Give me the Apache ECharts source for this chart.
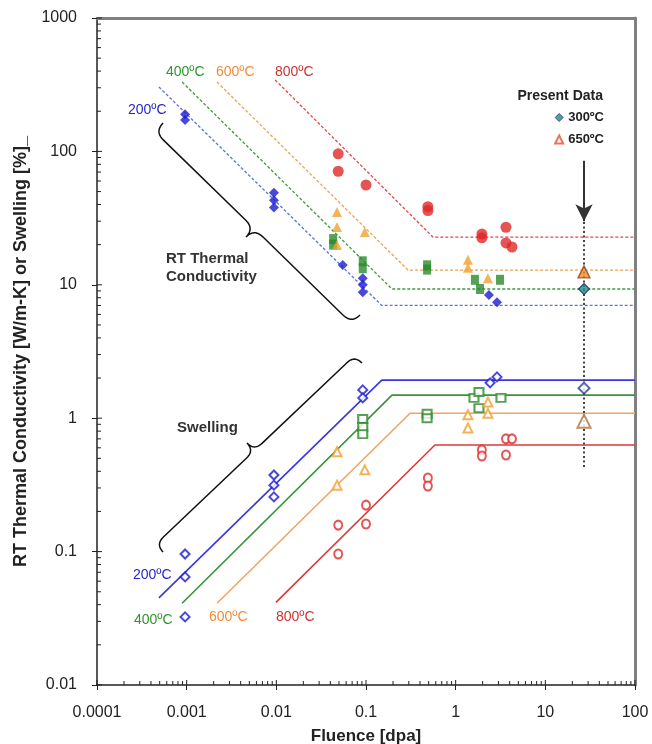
<!DOCTYPE html>
<html>
<head>
<meta charset="utf-8">
<script src="https://cdn.jsdelivr.net/npm/echarts@6/dist/echarts.min.js"></script>
<style>
  html, body { margin: 0; padding: 0; background: #fff; }
  #chart { width: 652px; height: 744px; }
</style>
</head>
<body>
<div id="chart"></div>
<script>
// ---- axis ticks ----
const xTickLabels = ['0.0001', '0.001', '0.01', '0.1', '1', '10', '100'];
const yTickLabels = ['0.01', '0.1', '1', '10', '100', '1000'];

// ---- RT thermal conductivity trend lines (dashed): start, knee, plateau end ----
const tcLine200 = [[0.00049, 304], [0.15, 7.0], [100, 7.0]];
const tcLine400 = [[0.00089, 331], [0.195, 9.3], [100, 9.3]];
const tcLine600 = [[0.00218, 331], [0.294, 12.9], [100, 12.9]];
const tcLine800 = [[0.0097, 343], [0.558, 22.8], [100, 22.8]];

// ---- swelling trend lines (solid) ----
const swLine200 = [[0.00049, 0.045], [0.15, 1.93], [100, 1.93]];
const swLine400 = [[0.00089, 0.041], [0.195, 1.49], [100, 1.49]];
const swLine600 = [[0.00218, 0.041], [0.31, 1.09], [100, 1.09]];
const swLine800 = [[0.0099, 0.0416], [0.587, 0.63], [100, 0.63]];

// ---- RT thermal conductivity data [dpa, W/m-K] ----
const tc200 = [[0.00096, 190], [0.00096, 172], [0.0094, 49], [0.0094, 43], [0.0094, 38],
               [0.055, 14.1], [0.092, 11.2], [0.092, 10], [0.092, 8.8], [2.35, 8.4], [2.89, 7.4]];
const tc400 = [[0.043, 22], [0.043, 20], [0.092, 15], [0.092, 13.3], [0.48, 14], [0.48, 13],
               [1.64, 10.9], [1.87, 9.3], [3.12, 10.9]];
const tc600 = [[0.0475, 35.2], [0.0475, 27.1], [0.0475, 19.9], [0.097, 24.9],
               [1.37, 15.4], [1.37, 13.4], [2.29, 11.2]];
const tc800 = [[0.049, 96], [0.049, 71], [0.1, 56], [0.49, 38.5], [0.49, 36],
               [1.96, 24], [1.96, 22.5], [3.64, 27], [3.64, 20.6], [4.25, 19.2]];

// ---- swelling data [dpa, %] ----
const sw200 = [[0.00096, 0.096], [0.00096, 0.0646], [0.00096, 0.0324], [0.0094, 0.375],
               [0.0094, 0.315], [0.0094, 0.257], [0.092, 1.63], [0.092, 1.42], [2.42, 1.84], [2.89, 2.04]];
const sw400 = [[0.092, 0.986], [0.092, 0.86], [0.092, 0.76], [0.48, 1.08], [0.48, 1.0],
               [1.6, 1.42], [1.82, 1.57], [1.82, 1.19], [3.2, 1.42]];
const sw600 = [[0.0475, 0.56], [0.0475, 0.315], [0.097, 0.41], [1.37, 1.06], [1.37, 0.845],
               [2.29, 1.32], [2.29, 1.09]];
const sw800 = [[0.049, 0.158], [0.049, 0.096], [0.1, 0.223], [0.1, 0.161], [0.49, 0.356], [0.49, 0.31],
               [1.96, 0.578], [1.96, 0.521], [3.64, 0.70], [4.25, 0.70], [3.64, 0.53]];

// ---- present data (300ºC and 650ºC) ----
const presentFluence = 27;
const present300TC = [[presentFluence, 9.3]];
const present650TC = [[presentFluence, 12.5]];
const present300SW = [[presentFluence, 1.68]];
const present650SW = [[presentFluence, 0.95]];
const presentGuide = [[presentFluence, 29.6], [presentFluence, 0.43]];
const presentArrow = [[presentFluence, 85], [presentFluence, 30]];

// ---- colours ----
const C = {
  blue: '#1c1cd0', blueDash: '#5a78d8', blueLine: '#3838e0',
  green: '#2a8a2a', greenDash: '#3c9a3c', greenLine: '#3a923a',
  orange: '#f0a030', orangeDash: '#f0a050', orangeLine: '#f4a460',
  red: '#e02828', redDash: '#e04848', redLine: '#e03a3a'
};
const FONT = '"Liberation Sans", Arial, Helvetica, sans-serif';

// minor tick values (2..9 within each decade)
function minorTicks(e0, e1) {
  const out = [];
  for (let e = e0; e < e1; e++) for (let m = 2; m <= 9; m++) out.push(m * Math.pow(10, e));
  return out;
}
function majorTicks(e0, e1) {
  const out = [];
  for (let e = e0; e <= e1; e++) out.push(Math.pow(10, e));
  return out;
}
const xTickMarks = minorTicks(-4, 2).map(v => [v, 0.01, 4]).concat(majorTicks(-4, 2).map(v => [v, 0.01, 5]));
const yTickMarks = minorTicks(-2, 3).map(v => [0.0001, v, 4]).concat(majorTicks(-2, 3).map(v => [0.0001, v, 5]));

function trend(data, color, dashed) {
  return {
    type: 'line', data, symbol: 'none', silent: true, z: 2,
    lineStyle: { color, width: dashed ? 1.3 : 1.6, type: dashed ? [3, 2] : 'solid' }
  };
}
function pts(data, symbol, size, color, border, z) {
  return {
    type: 'scatter', data, symbol, symbolSize: size, silent: true, z: z || 4,
    itemStyle: { color, borderColor: border || color, borderWidth: border ? 1.4 : 0 }
  };
}
// hollow markers: the outline takes the series colour, the inside stays white
function openPts(data, symbol, size, color, z, lw) {
  return {
    type: 'scatter', data, symbol, symbolSize: size, silent: true, z: z || 4,
    itemStyle: { color: color, borderColor: color, borderWidth: lw || 1.4 }
  };
}

const chart = echarts.init(document.getElementById('chart'), null, { renderer: 'canvas' });

const option = {
  animation: false,
  backgroundColor: '#fff',
  grid: { left: 97, right: 17, top: 18, bottom: 59, containLabel: false, outerBoundsMode: 'none' },
  legend: {
    orient: 'vertical', right: 48, top: 111, itemWidth: 8, itemHeight: 8, itemGap: 9,
    padding: 0, selectedMode: false,
    textStyle: { fontFamily: FONT, fontSize: 13, fontWeight: 'bold', color: '#222' },
    data: [
      { name: '300ºC', icon: 'diamond', itemStyle: { color: '#2a7f96', borderColor: '#1d3c5c', borderWidth: 1 } },
      { name: '650ºC', icon: 'emptyTriangle', itemStyle: { color: '#e0532a', borderColor: '#e0532a', borderWidth: 1.5 } }
    ]
  },
  xAxis: [{
    type: 'log', min: 0.0001, max: 100, logBase: 10,
    axisLine: { lineStyle: { color: '#222', width: 1.5 } },
    axisTick: { show: true, length: 5, lineStyle: { color: '#222', width: 1 } },
    axisLabel: {
      fontFamily: FONT, fontSize: 16, color: '#222', margin: 20,
      formatter: v => xTickLabels[Math.round(Math.log10(v)) + 4]
    },
    splitLine: { show: false },
    name: 'Fluence [dpa]', nameLocation: 'middle', nameGap: 43,
    nameTextStyle: { fontFamily: FONT, fontSize: 17, fontWeight: 'bold', color: '#222' }
  }, {
    type: 'log', min: 0.0001, max: 100, position: 'top',
    axisLine: { lineStyle: { color: '#808080', width: 3 } },
    axisTick: { show: false }, axisLabel: { show: false }, splitLine: { show: false }
  }],
  yAxis: [{
    type: 'log', min: 0.01, max: 1000, logBase: 10,
    axisLine: { lineStyle: { color: '#222', width: 1.5 } },
    axisTick: { show: true, length: 5, lineStyle: { color: '#222', width: 1 } },
    axisLabel: {
      fontFamily: FONT, fontSize: 16, color: '#222', margin: 20,
      formatter: v => yTickLabels[Math.round(Math.log10(v)) + 2]
    },
    splitLine: { show: false },
    name: 'RT Thermal Conductivity [W/m-K] or Swelling [%]_',
    nameLocation: 'middle', nameGap: 67,
    nameTextStyle: { fontFamily: FONT, fontSize: 18, fontWeight: 'bold', color: '#222' }
  }, {
    type: 'log', min: 0.01, max: 1000, position: 'right',
    axisLine: { lineStyle: { color: '#808080', width: 3 } },
    axisTick: { show: false }, axisLabel: { show: false }, splitLine: { show: false }
  }],
  series: [
    // inward tick marks on the log axes
    {
      type: 'custom', silent: true, z: 6, clip: false, data: xTickMarks,
      renderItem: (params, api) => {
        const p = api.coord([api.value(0), api.value(1)]);
        return { type: 'line', shape: { x1: p[0], y1: p[1], x2: p[0], y2: p[1] - api.value(2) },
                 style: { stroke: '#222', lineWidth: 1 } };
      }
    },
    {
      type: 'custom', silent: true, z: 6, clip: false, data: yTickMarks,
      renderItem: (params, api) => {
        const p = api.coord([api.value(0), api.value(1)]);
        return { type: 'line', shape: { x1: p[0], y1: p[1], x2: p[0] + api.value(2), y2: p[1] },
                 style: { stroke: '#222', lineWidth: 1 } };
      }
    },

    trend(tcLine200, C.blueDash, true),
    trend(tcLine400, C.greenDash, true),
    trend(tcLine600, C.orangeDash, true),
    trend(tcLine800, C.redDash, true),
    trend(swLine200, C.blueLine, false),
    trend(swLine400, C.greenLine, false),
    trend(swLine600, C.orangeLine, false),
    trend(swLine800, C.redLine, false),

    // present-data guide line and arrow
    {
      type: 'line', data: presentGuide, symbol: 'none', silent: true, z: 3,
      lineStyle: { color: '#444', width: 2, type: [2, 2.5] }
    },
    {
      type: 'line', data: [], silent: true, z: 3,
      markLine: {
        silent: true, symbol: ['none', 'arrow'], symbolSize: [13, 17],
        label: { show: false },
        lineStyle: { color: '#333', width: 2, type: 'solid' },
        data: [[{ coord: presentArrow[0] }, { coord: presentArrow[1] }]]
      }
    },

    pts(tc200, 'diamond', 10, C.blue),
    pts(tc400, 'rect', [8, 10], C.green),
    pts(tc600, 'triangle', 10, C.orange),
    pts(tc800, 'circle', 11, C.red),

    openPts(sw200, 'emptyDiamond', 9, C.blue),
    openPts(sw400, 'emptyRect', [9, 8], C.green),
    openPts(sw600, 'emptyTriangle', 9, C.orange),
    openPts(sw800, 'emptyCircle', [8, 9], C.red),

    { name: '300ºC', ...pts(present300TC, 'diamond', 11, '#2a8c96', '#1b3f5a', 5) },
    pts(present650TC, 'triangle', 12, '#f08a28', '#8a4a1a', 5),
    openPts(present300SW, 'emptyDiamond', 11, '#2c3c9a', 5, 1.6),
    { name: '650ºC', ...openPts(present650SW, 'emptyTriangle', 13, '#b0703a', 5, 1.6) }
  ]
};
chart.setOption(option);

// ---- annotations: braces and text labels ----
function toPx(p) { return chart.convertToPixel({ xAxisIndex: 0, yAxisIndex: 0 }, p); }

// curly brace between two ends, cusp pointing toward `tip`
function bracePoints(aData, bData, tipData) {
  const a = toPx(aData), b = toPx(bData), t = toPx(tipData);
  const L = Math.hypot(b[0] - a[0], b[1] - a[1]);
  const d = [(b[0] - a[0]) / L, (b[1] - a[1]) / L];
  let n = [-d[1], d[0]];
  const rel = [t[0] - a[0], t[1] - a[1]];
  if (rel[0] * n[0] + rel[1] * n[1] < 0) n = [-n[0], -n[1]];
  const depth = rel[0] * n[0] + rel[1] * n[1];
  const tu = rel[0] * d[0] + rel[1] * d[1];
  const h = depth / 2;
  const P = (u, v) => [a[0] + u * d[0] + v * n[0], a[1] + u * d[1] + v * n[1]];
  const quad = (p0, c, p1, out) => {
    for (let i = 1; i <= 12; i++) {
      const s = i / 12, r = 1 - s;
      out.push([r * r * p0[0] + 2 * r * s * c[0] + s * s * p1[0], r * r * p0[1] + 2 * r * s * c[1] + s * s * p1[1]]);
    }
  };
  const pts = [P(0, 0)];
  quad(P(0, 0), P(0, h), P(h, h), pts);
  pts.push(P(tu - h, h));
  quad(P(tu - h, h), P(tu, h), P(tu, 2 * h), pts);
  quad(P(tu, 2 * h), P(tu, h), P(tu + h, h), pts);
  pts.push(P(L - h, h));
  quad(P(L - h, h), P(L, h), P(L, 0), pts);
  return pts;
}

function label(text, x, y, color, size, weight, align) {
  return {
    type: 'text', x, y, silent: true, z: 10,
    style: { text, fill: color, fontFamily: FONT, fontSize: size, fontWeight: weight || 'normal',
             align: align || 'left', verticalAlign: 'middle' }
  };
}

const upperBrace = bracePoints([0.000545, 163], [0.0857, 5.94], [0.00459, 22.8]);
const lowerBrace = bracePoints([0.000545, 0.0993], [0.0901, 2.59], [0.00471, 0.652]);

chart.setOption({
  graphic: [
    { type: 'polyline', silent: true, z: 10, shape: { points: upperBrace },
      style: { stroke: '#111', lineWidth: 1.5, fill: null } },
    { type: 'polyline', silent: true, z: 10, shape: { points: lowerBrace },
      style: { stroke: '#111', lineWidth: 1.5, fill: null } },

    label('200ºC', 128, 110, '#2828c8', 14),
    label('400ºC', 166, 72, '#2e962e', 14),
    label('600ºC', 216, 72, '#f08c3c', 14),
    label('800ºC', 275, 72, '#cc3333', 14),
    label('200ºC', 133, 575, '#2828c8', 14),
    label('400ºC', 134, 620, '#2e962e', 14),
    label('600ºC', 209, 617, '#f08c3c', 14),
    label('800ºC', 276, 617, '#cc3333', 14),

    label('RT Thermal', 166, 259, '#333', 15, 'bold'),
    label('Conductivity', 166, 277, '#333', 15, 'bold'),
    label('Swelling', 177, 428, '#333', 15, 'bold'),
    label('Present Data', 603, 96, '#222', 14, 'bold', 'right')
  ]
});
</script>
</body>
</html>
